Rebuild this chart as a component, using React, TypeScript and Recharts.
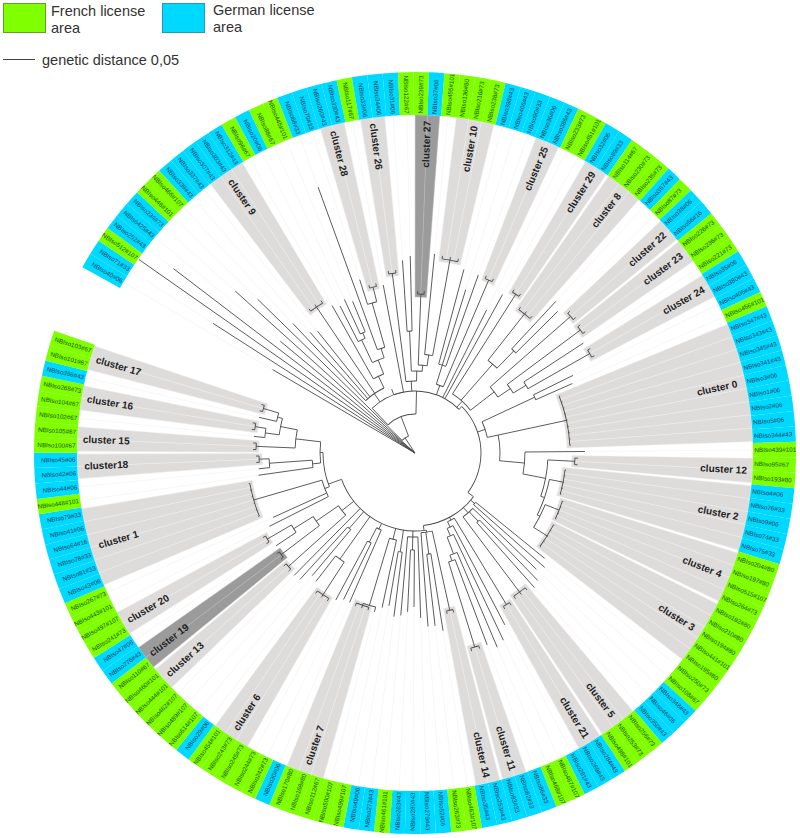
import { Cell, ComposedChart, Line, Pie, PieChart, XAxis, YAxis } from "recharts";

const WIDTH = 800;
const HEIGHT = 838;
const CX = 415;
const CY = 453;
const RING_INNER = 338;
const RING_OUTER = 381;
const FIRST_ANGLE = -60.8; // clockwise from north
const STEP = 2.33;

const FONT = '"Liberation Sans", Arial, sans-serif';

const leafNames = [
  "NBIso40#06", "NBIso71#33", "NBIso512#107", "NBIso252#43", "NBIso425#43", "NBIso234#73", "NBIso446#101", "NBIso466#107",
  "NBIso339#43", "NBIso337#43", "NBIso307#43", "NBIso303#43", "NBIso312#43", "NBIso96#67", "NBIso20#06", "NBIso88#67",
  "NBIso445#101", "NBIso68#33", "NBIso70#33", "NBIso260#43", "NBIso330#43", "NBIso117#67", "NBIso33#06", "NBIso34#06",
  "NBIso31#06", "NBIso122#67", "NBIso239#73", "NBIso37#06", "NBIso455#101", "NBIso136#80", "NBIso216#73", "NBIso238#73",
  "NBIso398#43", "NBIso406#43", "NBIso90#33", "NBIso36#06", "NBIso386#43", "NBIso233#73", "NBIso451#101", "NBIso32#06",
  "NBIso89#33", "NBIso114#67", "NBIso230#73", "NBIso235#73", "NBIso367#43", "NBIso87#73", "NBIso38#06", "NBIso56#16",
  "NBIso226#73", "NBIso236#73", "NBIso221#73", "NBIso35#06", "NBIso380#43", "NBIso405#43", "NBIso456#101", "NBIso347#43",
  "NBIso343#43", "NBIso345#43", "NBIso341#43", "NBIso3#06", "NBIso1#06", "NBIso2#06", "NBIso5#06", "NBIso344#43",
  "NBIso439#101", "NBIso95#67", "NBIso193#80", "NBIso4#06", "NBIso76#33", "NBIso9#06", "NBIso74#33", "NBIso75#33",
  "NBIso204#80", "NBIso197#80", "NBIso515#107", "NBIso264#73", "NBIso192#80", "NBIso210#80", "NBIso194#80", "NBIso441#101",
  "NBIso195#80", "NBIso250#73", "NBIso108#67", "NBIso348#43", "NBIso46#06", "NBIso350#43", "NBIso256#73", "NBIso253#73",
  "NBIso498#101", "NBIso284#43", "NBIso269#43", "NBIso281#43", "NBIso467#107", "NBIso468#107", "NBIso86#33", "NBIso82#33",
  "NBIso83#33", "NBIso253#43", "NBIso35#43", "NBIso463#107", "NBIso263#73", "NBIso52#06", "NBIso279#43", "NBIso280#43",
  "NBIso283#43", "NBIso461#101", "NBIso273#43", "NBIso49#06", "NBIso499#107", "NBIso500#107", "NBIso112#67", "NBIso168#80",
  "NBIso170#80", "NBIso30#06", "NBIso242#73", "NBIso244#73", "NBIso245#73", "NBIso243#73", "NBIso454#101", "NBIso29#06",
  "NBIso514#107", "NBIso489#107", "NBIso462#107", "NBIso444#101", "NBIso460#101", "NBIso110#67", "NBIso276#43", "NBIso47#06",
  "NBIso241#73", "NBIso497#107", "NBIso443#101", "NBIso267#73", "NBIso43#06", "NBIso81#33", "NBIso78#33", "NBIso64#16",
  "NBIso41#06", "NBIso79#33", "NBIso448#101", "NBIso44#06", "NBIso42#06", "NBIso45#06", "NBIso100#67", "NBIso105#67",
  "NBIso102#67", "NBIso104#67", "NBIso268#73", "NBIso356#43", "NBIso101#67", "NBIso103#67",
];

// F = French license area, G = German license area, same order as leafNames
const leafAreas =
  "GGFGGGFFGGGGGFGFFGGGGFGGGFFGFFFFGGGGGFFGGFFFGFGGFFFGGGFGGGGGGGGGFFFGGGGGFFFFFFFFFFFGGGFFFGGGFFGGGGGFFGGGGFGGFFFFFGFFFFFGFFFFFFGGFFFFGGGGGGFGGGFFFFFGFF";

const clusterNames = [
  "cluster 9", "cluster 28", "cluster 26", "cluster 27", "cluster 10", "cluster 25", "cluster 29", "cluster 8",
  "cluster 22", "cluster 23", "cluster 24", "cluster 0", "cluster 12", "cluster 2", "cluster 4", "cluster 3",
  "cluster 5", "cluster 21", "cluster 11", "cluster 14", "cluster 7", "cluster 6", "cluster 13", "cluster 19",
  "cluster 20", "cluster 1", "cluster18", "cluster 15", "cluster 16", "cluster 17",
];
const clusterFirst = [10, 19, 22, 26, 29, 35, 39, 41, 46, 48, 51, 55, 65, 67, 72, 76, 86, 89, 95, 97, 110, 116, 123, 125, 128, 132, 140, 142, 145, 148];
const clusterLast = [12, 20, 23, 27, 31, 36, 40, 43, 47, 49, 52, 63, 66, 71, 75, 80, 88, 90, 96, 98, 112, 118, 124, 126, 129, 137, 141, 143, 146, 149];
const clusterInner = [173, 168, 178, 156, 193, 185, 185, 174, 204, 203, 198, 152, 157, 148, 152, 153, 171, 174, 200, 158, 158, 166, 167, 165, 168, 165, 153, 156, 159, 155];
const darkClusters = ["cluster 27", "cluster 19"];

// tree nodes: leaf = [distance, leaf index], inner = [distance, children, optional position]
type TreeNode = [number, number] | [number, TreeNode[], number?];

function c(name: string): TreeNode {
  const k = clusterNames.indexOf(name);
  const count = clusterLast[k] - clusterFirst[k] + 1;
  const tips: TreeNode[] = [];
  for (let i = clusterFirst[k]; i <= clusterLast[k]; i++) tips.push([clusterInner[k] + (count > 3 ? 4 : 6), i]);
  return [clusterInner[k] + 3, tips];
}

const upperLeft: TreeNode = [62, [
  [72, [
    [178, 7], [160, 8], [156, 9], c("cluster 9"),
    [85, [
      [169, 13],
      [100, [
        [125, [[165, 14], [131, [[169, 15], [164, 16]]]]],
        [110, [[283, 17], [156, [[182, 18], c("cluster 28")]]]],
      ]],
    ]],
  ]],
  [171, 21],
], 6.8];

const lowerRight: TreeNode = [73, [
  [78, [[167, 81], [173, 82]]],
  [80, [[168, 83], [93, [[177, 84], [180, 85]]], c("cluster 5")]],
  [76, [
    c("cluster 21"),
    [82, [[194, 91], [90, [[207, 92], [108, [[211, 93], [114, [[205, 94], c("cluster 11")]]]]]]]],
  ]],
  [78, [
    [80, [c("cluster 14"), [102, [[180, 99], [174, 100]]], [174, 101]]],
    [84, [[165, 102], [97, [[154, 103], [159, 104]]], [163, 105]]],
    [100, [[165, 106], [155, 107]]],
    [89, [[158, 108], [159, [[164, 109], c("cluster 7")]]]],
    [84, [[163, 113], [100, [[163, 114], [167, 115]]]]],
    [130, [c("cluster 6"), [162, 119]]],
    [100, [[160, 120], [171, 121]]],
    [172, 122],
    [93, [c("cluster 13"), [120, [c("cluster 19"), [143, [[167, 127], c("cluster 20")]]]]]],
    [92, [
      [97, [[163, 130], [156, 131], c("cluster 1")]],
      [95, [
        [103, [[158, 138], [146, [[157, 139], c("cluster18")]]]],
        [120, [
          c("cluster 15"),
          [137, [[151, [[162, 144], c("cluster 16")]], [142, [[160, 147], c("cluster 17")]]]],
        ]],
      ]],
    ], 133],
  ], 100],
], 80];

const rightSide: TreeNode = [74, [
  [132, [[176, 53], [172, 54]]],
  [85, [
    c("cluster 0"),
    [110, [
      [170, 64],
      [133, [c("cluster 12"), [137, [c("cluster 2"), [140, [c("cluster 4"), c("cluster 3")]]]]]],
    ]],
  ], 59],
]];

const upperRight: TreeNode = [62, [
  [68, [], 17],
  [72, [
    c("cluster 26"),
    [82, [
      [122, [[193, 24], [197, 25]]],
      [88, [c("cluster 27"), [99, [[200, 28], c("cluster 10")]]]],
    ]],
  ]],
  [72, [[92, [[190, 32], [171, 33], [189, 34]]], c("cluster 25")]],
  [160, 37],
  [181, 38],
  [70, [
    c("cluster 29"),
    [118, [c("cluster 8"), [142, [[207, 44], [201, 45]]]]],
    [100, [c("cluster 22"), [115, [c("cluster 23"), [130, [[201, 50], c("cluster 24")]]]]]],
  ]],
  [66, [rightSide, lowerRight], 45],
], 26.2];

const treeRoot: TreeNode = [0, [
  [165, 0], [240, 1], [337, 2], [304, 3], [175, 4], [242, 5],
  [18, [[220, 6], [39, [upperLeft, upperRight], 16.6]]],
]];

const leafAngle = (p: number) => FIRST_ANGLE + (p + 0.5) * STEP;
const toChartAngle = (clockwise: number) => 90 - clockwise;
const polarX = (p: number, r: number) => r * Math.sin((leafAngle(p) * Math.PI) / 180);
const polarY = (p: number, r: number) => r * Math.cos((leafAngle(p) * Math.PI) / 180);

type Arc = { from: number; to: number; r: number };
type TreePoint = { x: number; branch?: number | null; spoke?: number | null };

const arcs: Arc[] = [];
const treePoints: TreePoint[] = [];

function inCluster(leaf: number) {
  return clusterFirst.some((first, k) => leaf >= first && leaf <= clusterLast[k]);
}

function place(node: TreeNode, parentR: number): number {
  const r = node[0];
  let p: number;
  if (typeof node[1] === "number") {
    p = node[1];
    if (!inCluster(p)) {
      treePoints.push({ x: polarX(p, r), spoke: polarY(p, r) });
      treePoints.push({ x: polarX(p, RING_INNER), spoke: polarY(p, RING_INNER) });
      treePoints.push({ x: polarX(p, RING_INNER), spoke: null });
    }
  } else {
    const positions = node[1].map((kid) => place(kid, r));
    const override = node[2];
    p = override !== undefined ? override : (positions[0] + positions[positions.length - 1]) / 2;
    const span = [...positions, p];
    const from = Math.min(...span);
    const to = Math.max(...span);
    if (r > 0 && to > from) arcs.push({ from, to, r });
  }
  treePoints.push({ x: polarX(p, parentR), branch: polarY(p, parentR) });
  treePoints.push({ x: polarX(p, r), branch: polarY(p, r) });
  treePoints.push({ x: polarX(p, r), branch: null });
  return p;
}

place(treeRoot, 0);

const ringData = leafNames.map((name, i) => ({ name, value: 1, area: leafAreas[i] }));

function radialText(clockwise: number, r: number) {
  const a = (clockwise * Math.PI) / 180;
  const normal = ((clockwise + 180) % 360 + 360) % 360 - 180;
  const isRight = normal >= 0;
  return {
    x: CX + r * Math.sin(a),
    y: CY - r * Math.cos(a),
    isRight,
    rotation: isRight ? normal - 90 : normal + 90,
  };
}

function renderLeafLabel(props: { index?: number }) {
  const i = props.index ?? 0;
  const { x, y, isRight, rotation } = radialText(leafAngle(i), RING_INNER + 1.5);
  return (
    <text
      key={leafNames[i]}
      x={x}
      y={y}
      dy="0.35em"
      textAnchor={isRight ? "start" : "end"}
      transform={`rotate(${rotation} ${x} ${y})`}
      fontFamily={FONT}
      fontSize={6.3}
      fill={leafAreas[i] === "F" ? "#1c5200" : "#083f5e"}
    >
      {leafNames[i]}
    </text>
  );
}

function ClusterLabel({ k }: { k: number }) {
  const mid = leafAngle((clusterFirst[k] + clusterLast[k]) / 2);
  const { x, y, rotation } = radialText(mid, 309);
  return (
    <text
      x={x}
      y={y}
      dy="0.35em"
      textAnchor="middle"
      transform={`rotate(${rotation} ${x} ${y})`}
      fontFamily={FONT}
      fontSize={10}
      fontWeight="bold"
      fill="#222"
    >
      {clusterNames[k]}
    </text>
  );
}

const legendText = { position: "absolute", fontFamily: FONT, fontSize: 14.5, lineHeight: "16.5px", color: "#333" } as const;

function App() {
  return (
    <div style={{ position: "absolute", left: 0, top: 0, width: WIDTH, height: HEIGHT, background: "#fff" }}>
      <div style={{ position: "absolute", left: 0, top: 0 }}>
        <PieChart width={WIDTH} height={HEIGHT} margin={{ top: 0, right: 0, bottom: 0, left: 0 }}>
          {clusterNames.map((name, k) => {
            const count = clusterLast[k] - clusterFirst[k] + 1;
            const cells = Array.from({ length: count }, (_, i) => ({ name: `${name}-${i}`, value: 1 }));
            return (
              <Pie
                key={name}
                data={cells}
                dataKey="value"
                cx={CX}
                cy={CY}
                innerRadius={clusterInner[k]}
                outerRadius={RING_INNER}
                startAngle={toChartAngle(FIRST_ANGLE + clusterFirst[k] * STEP + 0.25)}
                endAngle={toChartAngle(FIRST_ANGLE + (clusterLast[k] + 1) * STEP - 0.25)}
                fill={darkClusters.includes(name) ? "#9c9b9b" : "#dedbdb"}
                stroke={darkClusters.includes(name) ? "#b8b8b8" : "#eeecec"}
                strokeWidth={0.5}
                label={false}
                labelLine={false}
                isAnimationActive={false}
              />
            );
          })}
          <Pie
            data={ringData}
            dataKey="value"
            cx={CX}
            cy={CY}
            innerRadius={RING_INNER}
            outerRadius={RING_OUTER}
            startAngle={toChartAngle(FIRST_ANGLE)}
            endAngle={toChartAngle(FIRST_ANGLE + leafNames.length * STEP)}
            stroke="none"
            label={renderLeafLabel}
            labelLine={false}
            isAnimationActive={false}
          >
            {ringData.map((leaf) => (
              <Cell key={leaf.name} fill={leaf.area === "F" ? "#7fff00" : "#00d9ff"} />
            ))}
          </Pie>
          {arcs.map((arc, i) => (
            <Pie
              key={i}
              data={[{ name: `arc-${i}`, value: 1 }]}
              dataKey="value"
              cx={CX}
              cy={CY}
              innerRadius={arc.r - 0.45}
              outerRadius={arc.r + 0.45}
              startAngle={toChartAngle(leafAngle(arc.from))}
              endAngle={toChartAngle(leafAngle(arc.to))}
              fill="#4a4a4a"
              stroke="none"
              label={false}
              labelLine={false}
              isAnimationActive={false}
            />
          ))}
        </PieChart>
      </div>

      <div style={{ position: "absolute", left: 0, top: 0 }}>
        <ComposedChart width={WIDTH} height={HEIGHT} data={treePoints} margin={{ top: 0, right: 0, bottom: 0, left: 0 }}>
          <XAxis type="number" dataKey="x" domain={[-CX, WIDTH - CX]} hide />
          <YAxis type="number" domain={[CY - HEIGHT, CY]} hide />
          <Line dataKey="spoke" stroke="#f3f3f3" strokeWidth={0.7} dot={false} activeDot={false} isAnimationActive={false} />
          <Line dataKey="branch" stroke="#4a4a4a" strokeWidth={0.9} dot={false} activeDot={false} isAnimationActive={false} />
        </ComposedChart>
      </div>

      <svg width={WIDTH} height={HEIGHT} style={{ position: "absolute", left: 0, top: 0, pointerEvents: "none" }}>
        {clusterNames.map((name, k) => (
          <ClusterLabel key={name} k={k} />
        ))}
      </svg>

      <div style={{ position: "absolute", left: 3, top: 3, width: 41, height: 28, background: "#7fff00", border: "1px solid #5f9f2a" }} />
      <div style={{ ...legendText, left: 51, top: 3 }}>
        French license
        <br />
        area
      </div>
      <div style={{ position: "absolute", left: 162, top: 3, width: 41, height: 28, background: "#00d9ff", border: "1px solid #2a96b8" }} />
      <div style={{ ...legendText, left: 213, top: 2 }}>
        German license
        <br />
        area
      </div>
      <div style={{ position: "absolute", left: 3, top: 59, width: 32, height: 1, background: "#444" }} />
      <div style={{ ...legendText, left: 42, top: 52 }}>genetic distance 0,05</div>
    </div>
  );
}

export default App;
